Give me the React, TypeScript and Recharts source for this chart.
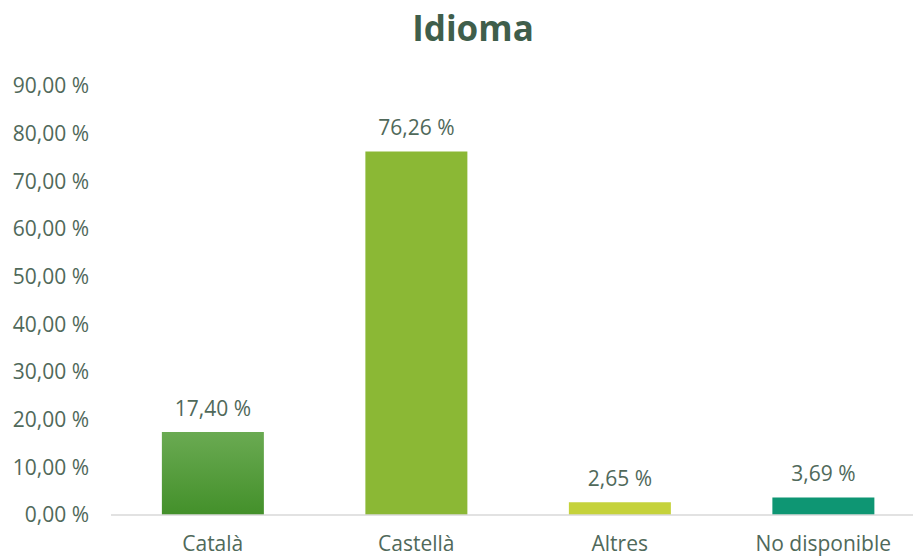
import { BarChart, Bar, XAxis, YAxis, Cell, LabelList } from "recharts";

const categories = ["Català", "Castellà", "Altres", "No disponible"];
const percentages = [17.4, 76.26, 2.65, 3.69];
const barColors = ["url(#catalaFill)", "#8bb835", "#c5d23b", "#0e9673"];
const yTicks = [0, 10, 20, 30, 40, 50, 60, 70, 80, 90];

const TEXT = "#50695a";
const FONT = "'Open Sans', sans-serif";

const fmt = (v: number) => `${v.toFixed(2).replace(".", ",")} %`;

export default function App() {
    const data = categories.map((name, i) => ({ name, value: percentages[i] }));

    return (
        <div
            style={{
                position: "absolute",
                top: 0,
                left: 0,
                width: 913,
                height: 558,
                overflow: "hidden",
                background: "#fff",
                fontFamily: FONT,
            }}
        >
            <div
                style={{
                    position: "absolute",
                    top: 4,
                    left: 0,
                    width: 946,
                    textAlign: "center",
                    fontSize: 35,
                    fontWeight: 700,
                    color: "#3f5e4b",
                }}
            >
                Idioma
            </div>
            <BarChart
                width={925}
                height={558}
                data={data}
                margin={{ top: 86, right: 0, left: 0, bottom: 0 }}
                barCategoryGap="25%"
            >
                <defs>
                    <linearGradient id="catalaFill" x1="0" y1="0" x2="0" y2="1">
                        <stop offset="0%" stopColor="#6aaa52" />
                        <stop offset="100%" stopColor="#43902a" />
                    </linearGradient>
                </defs>
                <XAxis
                    dataKey="name"
                    height={43}
                    tickLine={false}
                    axisLine={{ stroke: "#d9d9d9", strokeWidth: 1.5 }}
                    tick={{ fontSize: 21, fill: TEXT, fontFamily: FONT }}
                    tickMargin={15}
                />
                <YAxis
                    width={111}
                    domain={[0, 90]}
                    ticks={yTicks}
                    tickFormatter={fmt}
                    tickLine={false}
                    axisLine={false}
                    tickSize={0}
                    tickMargin={22}
                    tick={{ fontSize: 21, fill: TEXT, fontFamily: FONT }}
                />
                <Bar dataKey="value" isAnimationActive={false}>
                    {data.map((d, i) => (
                        <Cell key={d.name} fill={barColors[i]} />
                    ))}
                    <LabelList
                        dataKey="value"
                        position="top"
                        offset={16}
                        formatter={(v: any) => fmt(Number(v))}
                        style={{ fontSize: 21, fill: TEXT, fontFamily: FONT }}
                    />
                </Bar>
            </BarChart>
        </div>
    );
}
